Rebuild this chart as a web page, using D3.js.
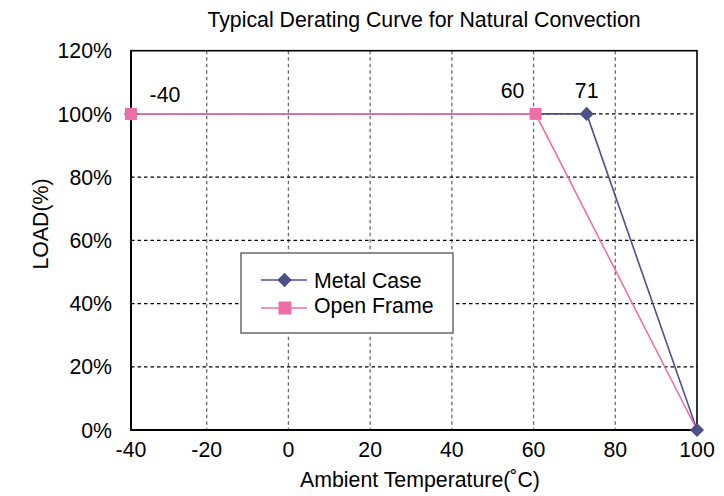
<!DOCTYPE html>
<html><head><meta charset="utf-8">
<script src="https://cdn.jsdelivr.net/npm/d3@7"></script>
<style>body{margin:0;background:#fff}svg{display:block;font-family:"Liberation Sans",Arial,sans-serif}</style>
</head><body><svg id="c" width="724" height="496"></svg>
<script>
const xTicks = [-40,-20,0,20,40,60,80,100];
const yTicks = [0,20,40,60,80,100,120];
const metalX = [-40,73,100];
const metalY = [100,100,0];
const openX = [-40,60.5,100];
const openY = [100,100,0];
const labelX = [-40,60,73];
const labelText = ["-40","60","71"];
const seriesNames = ["Metal Case","Open Frame"];

const svg = d3.select("#c");
const L=131,R=697,T=50.7,B=430;
const x = d3.scaleLinear().domain([-40,-20,100]).range([L,206.7,R]);
const y = d3.scaleLinear().domain([0,120]).range([B,T]);
const FS = 21.3;

// grid
svg.append("g").selectAll("line").data(xTicks.filter(d=>d>-40&&d<100)).join("line")
  .attr("x1",d=>x(d)).attr("x2",d=>x(d)).attr("y1",T).attr("y2",B)
  .attr("stroke","#6a6a6a").attr("stroke-width",1.3).attr("stroke-dasharray","3.5,3");
svg.append("g").selectAll("line").data(yTicks.filter(d=>d>0&&d<120)).join("line")
  .attr("x1",L).attr("x2",R).attr("y1",d=>y(d)).attr("y2",d=>y(d))
  .attr("stroke","#000").attr("stroke-width",1.2).attr("stroke-dasharray","3.5,3");
svg.append("rect").attr("x",L).attr("y",T).attr("width",R-L).attr("height",B-T)
  .attr("fill","none").attr("stroke","#000").attr("stroke-width",1.6);
svg.append("path").attr("d",`M${L},${T}V${B}H${R}`).attr("fill","none").attr("stroke","#000").attr("stroke-width",2);

// axes labels
svg.append("g").selectAll("text").data(xTicks).join("text")
  .attr("x",d=>x(d)).attr("y",457).attr("text-anchor","middle").attr("font-size",FS).text(d=>d);
svg.append("g").selectAll("text").data(yTicks).join("text")
  .attr("x",112).attr("y",d=>y(d)+7.6).attr("text-anchor","end").attr("font-size",FS).text(d=>d+"%");

svg.append("text").attr("x",424).attr("y",27).attr("text-anchor","middle").attr("font-size",FS)
  .text("Typical Derating Curve for Natural Convection");
svg.append("text").attr("x",420).attr("y",487).attr("text-anchor","middle").attr("font-size",FS)
  .text("Ambient Temperature(˚C)");
svg.append("text").attr("transform","translate(48,224) rotate(-90)").attr("text-anchor","middle").attr("font-size",FS)
  .text("LOAD(%)");

const line = d3.line().x(d=>x(d[0])).y(d=>y(d[1]));
const metal = metalX.map((v,i)=>[v,metalY[i]]);
const open = openX.map((v,i)=>[v,openY[i]]);
const cM="#4E5088", cO="#EE6FA8";
svg.append("path").attr("d",line(metal)).attr("fill","none").attr("stroke",cM).attr("stroke-width",1.6);
svg.append("path").attr("d",line(open)).attr("fill","none").attr("stroke",cO).attr("stroke-width",1.6);
svg.append("g").selectAll("path").data(metal).join("path")
  .attr("d",d3.symbol().type(d3.symbolSquare).size(100))
  .attr("transform",d=>`translate(${x(d[0])},${y(d[1])}) rotate(45)`).attr("fill",cM);
// the open-frame marker at the last point is hidden behind the metal-case diamond in the reference
svg.append("g").selectAll("rect").data(open.filter(d=>d[0]<100)).join("rect")
  .attr("x",d=>x(d[0])-6).attr("y",d=>y(d[1])-6).attr("width",12).attr("height",12).attr("fill",cO);

// data labels
const labelDx=[34,-21,0], labelY=[102,98,98];
svg.append("g").selectAll("text").data(labelX).join("text")
  .attr("x",(d,i)=>x(d)+labelDx[i]).attr("y",(d,i)=>labelY[i]).attr("text-anchor","middle").attr("font-size",FS)
  .text((d,i)=>labelText[i]);

// legend
const lg = svg.append("g");
lg.append("rect").attr("x",241).attr("y",253).attr("width",212).attr("height",80).attr("fill","#fff")
  .attr("stroke","#6a6a6a").attr("stroke-width",1.5);
const cols=[cM,cO], rowY=[280,308], baseY=[288,313];
seriesNames.forEach((n,i)=>{
  const yy = rowY[i];
  lg.append("line").attr("x1",261).attr("x2",307).attr("y1",yy).attr("y2",yy).attr("stroke",cols[i]).attr("stroke-width",1.6);
  if(i==0) lg.append("path").attr("d",d3.symbol().type(d3.symbolSquare).size(106)).attr("transform",`translate(284.5,${yy}) rotate(45)`).attr("fill",cM);
  else lg.append("rect").attr("x",278.5).attr("y",yy-6.5).attr("width",13).attr("height",13).attr("fill",cO);
  lg.append("text").attr("x",314).attr("y",baseY[i]).attr("font-size",FS).text(n);
});
</script></body></html>
